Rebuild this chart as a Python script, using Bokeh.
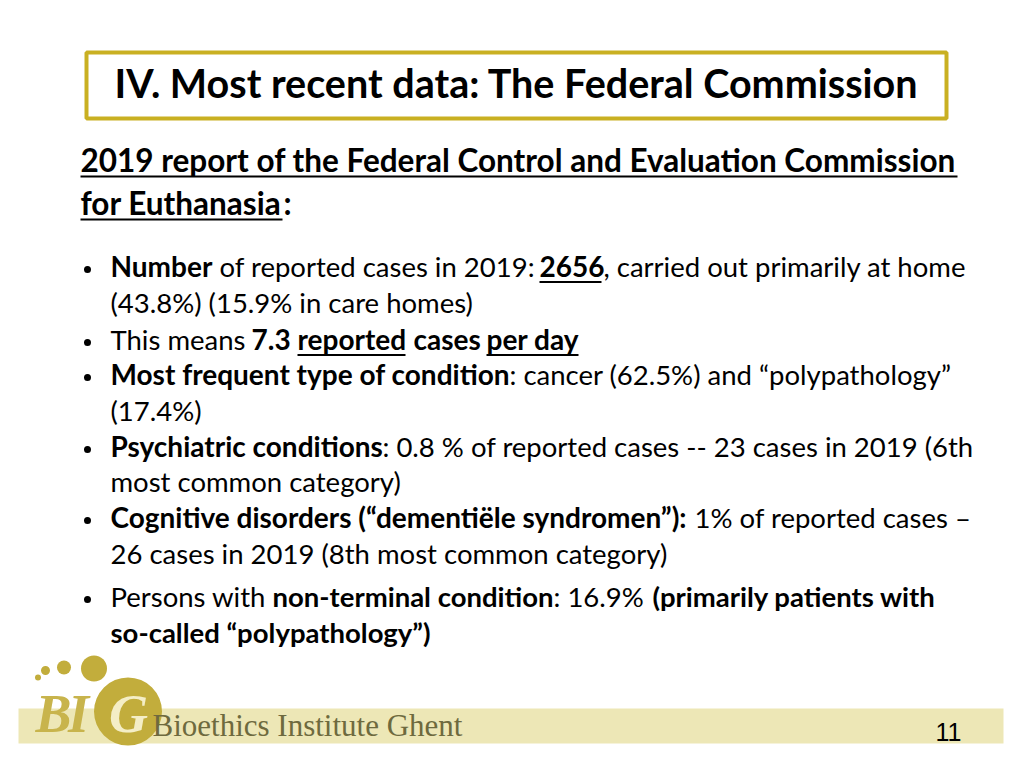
from bokeh.plotting import figure
from bokeh.models import Range1d, ColumnDataSource
from bokeh.core.properties import value
from bokeh.embed import file_html
from bokeh.resources import INLINE

# ---------------- content ----------------
title_text = "IV. Most recent data: The Federal Commission"
heading_texts = ["2019 report of the Federal Control and Evaluation Commission", "for Euthanasia", ":"]
heading_under = [1, 1, 0]

seg_text = [
    "Number", "of reported cases in 2019:", "2656", ", carried out primarily at home",
    "(43.8%) (15.9% in care homes)",
    "This means", "7.3", "reported", "cases", "per day",
    "Most frequent type of condition", ": cancer (62.5%) and \u201cpolypathology\u201d",
    "(17.4%)",
    "Psychiatric conditions", ": 0.8 % of reported cases -- 23 cases in 2019 (6th",
    "most common category)",
    "Cognitive disorders (\u201cdementi\u00eble syndromen\u201d):", "1% of reported cases \u2013",
    "26 cases in 2019 (8th most common category)",
    "Persons with", "non-terminal condition", ": 16.9%", "(primarily patients with",
    "so-called \u201cpolypathology\u201d)",
]
seg_line = [0, 0, 0, 0, 1, 2, 2, 2, 2, 2, 3, 3, 4, 5, 5, 6, 7, 7, 8, 9, 9, 9, 9, 10]
seg_bold = [1, 0, 1, 0, 0, 0, 1, 1, 1, 1, 1, 0, 0, 1, 0, 0, 1, 0, 0, 0, 1, 0, 1, 1]
seg_under = [0, 0, 1, 0, 0, 0, 0, 1, 0, 1, 0, 0, 0, 0, 0, 0, 0, 0, 0, 0, 0, 0, 0, 0]
bullet_lines = [0, 2, 3, 5, 7, 9]

logo_letters = ["B", "I", "G"]
institute_text = "Bioethics Institute Ghent"
page_number = "11"

# ---------------- layout (screen pixels) ----------------
seg_x = [110, 219, 539, 603, 110, 110, 251, 297, 413, 486, 110, 509, 110,
         110, 382, 110, 110, 694, 110, 110, 272, 553, 652, 110]
seg_x_end = [0, 0, 601, 0, 0, 0, 0, 405, 0, 578, 0, 0, 0,
             0, 0, 0, 0, 0, 0, 0, 0, 0, 0, 0]
line_base = [278, 314, 351, 386, 422, 458, 493, 529, 565, 608, 644]
REG, BLD, LAST = 27.5, 28.0, 27.5
K = 0.44  # glyph baseline correction (fraction of font size)
heading_x = [80, 80, 283]
heading_x_end = [957, 282, 0]
heading_base = [173, 216, 216]
TITLE_SIZE, HEAD_SIZE = 39.5, 31.5

GOLD = "#C9B022"
CIRCLE = "#C2AD3C"
BAND = "#EDE7B6"

p = figure(width=1008, height=752, x_range=Range1d(0, 1008), y_range=Range1d(752, 0),
           output_backend="svg", toolbar_location=None, min_border=0,
           outline_line_color=None, background_fill_color="white")
p.axis.visible = False
p.grid.visible = False

# title box
p.quad(left=[86], right=[946], top=[52], bottom=[118], fill_color=None,
       line_color=GOLD, line_width=4)
p.text(x=[114], y=[99 - K * TITLE_SIZE], text=[title_text], text_font=value("Lato"),
       text_font_size=f"{TITLE_SIZE}px", text_font_style="bold", text_baseline="alphabetic",
       text_color="black")

# heading
p.text(x=heading_x, y=[b - K * HEAD_SIZE for b in heading_base], text=heading_texts,
       text_font=value("Lato"), text_font_size=f"{HEAD_SIZE}px", text_font_style="bold",
       text_baseline="alphabetic", text_color="black")
hx0 = [heading_x[i] for i in range(len(heading_texts)) if heading_under[i]]
hx1 = [heading_x_end[i] for i in range(len(heading_texts)) if heading_under[i]]
hy = [heading_base[i] + 3 for i in range(len(heading_texts)) if heading_under[i]]
p.segment(x0=hx0, y0=hy, x1=hx1, y1=hy, line_color="black", line_width=2)

# body text
def size_of(i):
    if seg_line[i] >= 9:
        return LAST
    return BLD if seg_bold[i] else REG

groups = {}
for i in range(len(seg_text)):
    groups.setdefault((seg_bold[i], size_of(i)), []).append(i)
for (bold, size), idx in groups.items():
    src = ColumnDataSource(dict(
        x=[seg_x[i] for i in idx],
        y=[line_base[seg_line[i]] - K * size for i in idx],
        t=[seg_text[i] for i in idx]))
    p.text(x="x", y="y", text="t", source=src, text_font=value("Lato"),
           text_font_size=f"{size}px", text_font_style="bold" if bold else "normal",
           text_baseline="alphabetic", text_color="black")

ux0 = [seg_x[i] for i in range(len(seg_text)) if seg_under[i]]
ux1 = [seg_x_end[i] for i in range(len(seg_text)) if seg_under[i]]
uy = [line_base[seg_line[i]] + 3.5 for i in range(len(seg_text)) if seg_under[i]]
p.segment(x0=ux0, y0=uy, x1=ux1, y1=uy, line_color="black", line_width=2)

p.scatter(x=[87] * len(bullet_lines), y=[line_base[i] - 9 for i in bullet_lines],
          marker="circle", size=7, fill_color="black", line_color=None)

# footer band & logo
p.quad(left=[18], right=[1003], top=[708], bottom=[743], fill_color=BAND, line_color=None)
p.circle(x=[127.5, 93.5, 63.5, 45, 37.5], y=[711, 668, 667, 670, 677],
         radius=[34, 13, 7, 4.5, 3], fill_color=CIRCLE, line_color=None)
p.text(x=[53, 78, 128], y=[733 - 19.5] * 3, text=logo_letters,
       text_font=value("Liberation Serif"), text_font_size="54px",
       text_font_style="bold italic", text_baseline="alphabetic", text_align="center",
       text_color=["#C8B44C", "#C8B44C", "#F4EEC6"])
p.text(x=[152], y=[736 - 11.5], text=[institute_text], text_font=value("Liberation Serif"),
       text_font_size="31px", text_baseline="alphabetic", text_color="#6E6A3E")
p.text(x=[948], y=[742 - 11], text=[page_number], text_font=value("Liberation Sans"),
       text_font_size="25px", text_align="center", text_baseline="alphabetic",
       text_color="black")

open("out.html", "w").write(file_html(p, INLINE))
